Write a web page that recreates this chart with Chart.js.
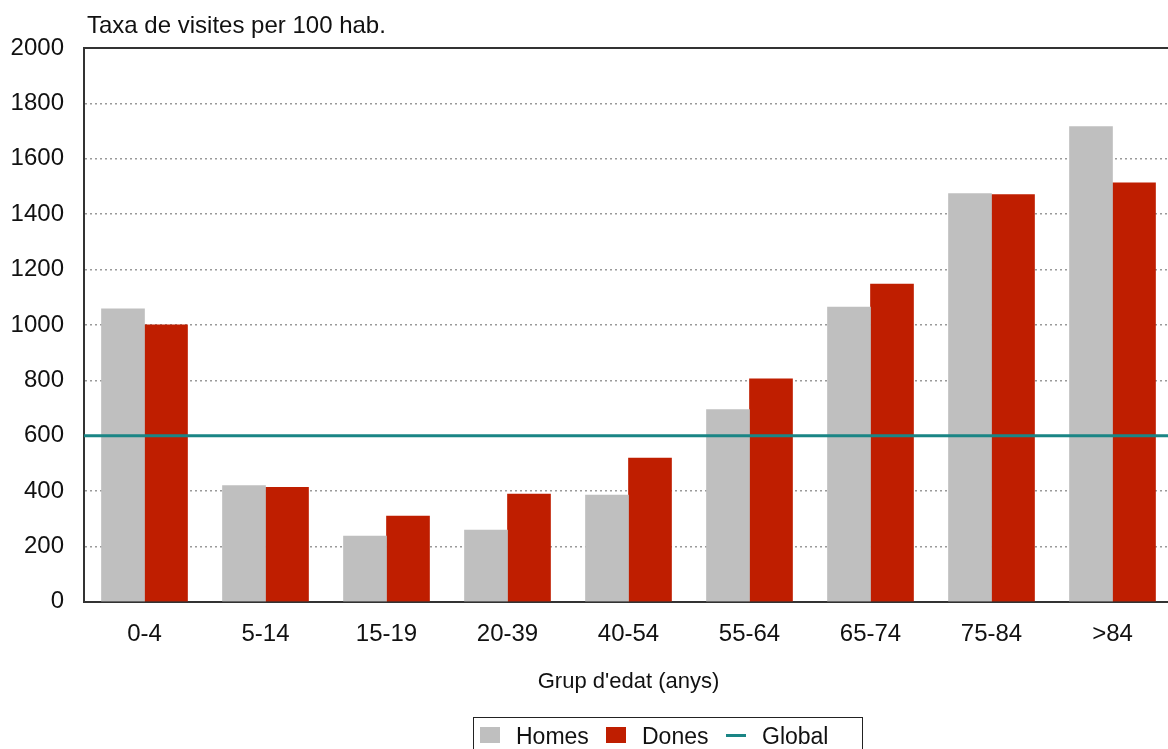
<!DOCTYPE html>
<html>
<head>
<meta charset="utf-8">
<script src="https://cdn.jsdelivr.net/npm/chart.js@4/dist/chart.umd.min.js"></script>
<style>
  body { margin: 0; overflow: hidden; background: #fff; font-family: "Liberation Sans", Arial, sans-serif; }
  #wrap { position: relative; width: 1168px; height: 749px; overflow: hidden; }
  #legend {
    position: absolute; left: 473px; top: 717px; width: 390px; height: 50px;
    border: 1.5px solid #222; box-sizing: border-box; font-size: 23px; color: #111;
  }
  #legend span { position: absolute; top: 5px; }
  .sw { position: absolute; top: 9px; width: 20px; height: 16px; }
</style>
</head>
<body>
<div id="wrap">
  <canvas id="my-chart" width="1175" height="749"></canvas>
  <div id="legend">
    <div class="sw" style="left:6px; background:#bfbfbf"></div>
    <span style="left:42px">Homes</span>
    <div class="sw" style="left:132px; background:#bf1e00"></div>
    <span style="left:168px">Dones</span>
    <div class="sw" style="left:252px; top:16px; height:3px; background:#1a8585"></div>
    <span style="left:288px">Global</span>
  </div>
</div>
<script>
const ageGroups = ['0-4', '5-14', '15-19', '20-39', '40-54', '55-64', '65-74', '75-84', '>84'];
const homes = [1058, 420, 237, 259, 385, 694, 1064, 1474, 1716];
const dones = [1000, 413, 310, 389, 519, 805, 1147, 1471, 1513];
const globalRate = 600;
const yTitle = 'Taxa de visites per 100 hab.';
const xTitle = "Grup d'edat (anys)";

const fontFamily = '"Liberation Sans", Arial, sans-serif';

// title above the plot + top frame line
const extras = {
  id: 'extras',
  afterDraw(chart) {
    const ctx = chart.ctx;
    const area = chart.chartArea;
    ctx.save();
    ctx.strokeStyle = '#333';
    ctx.lineWidth = 2;
    ctx.beginPath();
    ctx.moveTo(area.left, area.top);
    ctx.lineTo(area.right, area.top);
    ctx.stroke();
    ctx.fillStyle = '#111';
    ctx.font = '24px ' + fontFamily;
    ctx.textBaseline = 'middle';
    ctx.fillText(yTitle, area.left + 3, 26);
    ctx.restore();
  }
};

const ctx = document.getElementById('my-chart').getContext('2d');
const chart = new Chart(ctx, {
  type: 'bar',
  data: {
    labels: ageGroups,
    datasets: [
      {
        type: 'line',
        label: 'Global',
        data: [{ x: 0, y: globalRate }, { x: 1, y: globalRate }],
        xAxisID: 'x2',
        borderColor: '#1a8585',
        borderWidth: 3,
        pointRadius: 0,
        order: 0
      },
      {
        label: 'Homes',
        data: homes,
        backgroundColor: '#bfbfbf',
        barThickness: 43,
        order: 1
      },
      {
        label: 'Dones',
        data: dones,
        backgroundColor: '#bf1e00',
        barThickness: 43,
        order: 1
      }
    ]
  },
  options: {
    responsive: false,
    animation: false,
    devicePixelRatio: 1,
    layout: { padding: { top: 48, right: 2, bottom: 54, left: 0 } },
    plugins: { legend: { display: false }, tooltip: { enabled: false } },
    scales: {
      x: {
        grid: { display: false, drawTicks: false },
        border: { color: '#333', width: 2 },
        ticks: { color: '#111', font: { size: 24, family: fontFamily }, padding: 18 },
        title: { display: true, text: xTitle, color: '#111', font: { size: 22, family: fontFamily }, padding: { top: 2, bottom: 0 } }
      },
      x2: {
        type: 'linear',
        min: 0,
        max: 1,
        offset: false,
        display: false
      },
      y: {
        min: 0,
        max: 2000,
        afterFit(scale) { scale.width = 84; },
        ticks: {
          stepSize: 200,
          color: '#111',
          font: { size: 24, family: fontFamily },
          padding: 20,
          callback: v => String(v)
        },
        grid: {
          drawTicks: false,
          lineWidth: 1.5,
          color: c => (c.tick && (c.tick.value === 0 || c.tick.value === 2000)) ? 'rgba(0,0,0,0)' : '#9a9a9a'
        },
        border: { color: '#333', width: 2, dash: [2, 3] }
      }
    }
  },
  plugins: [extras]
});
</script>
</body>
</html>
